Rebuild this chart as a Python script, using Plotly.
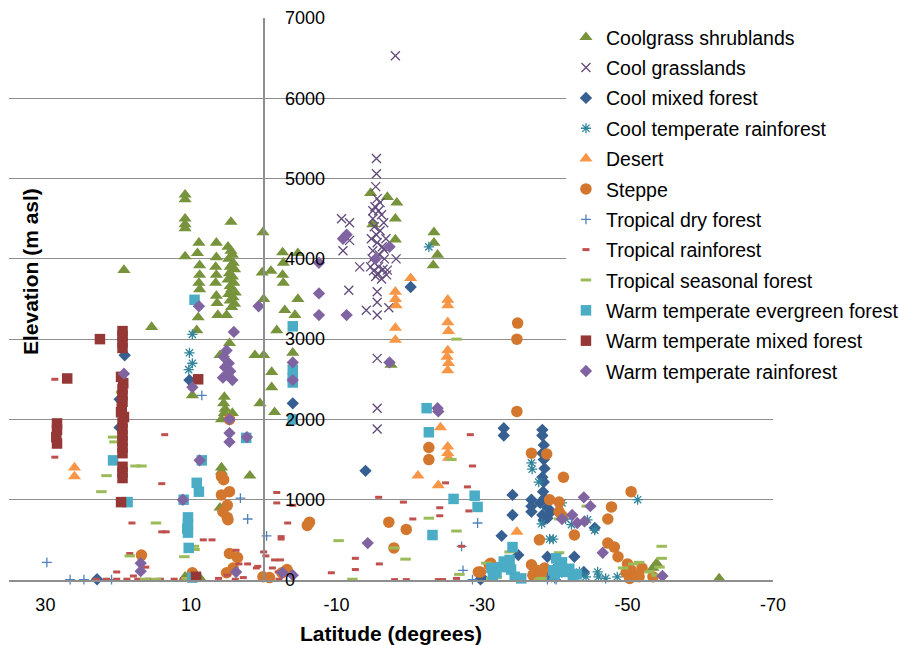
import plotly.graph_objects as go

# ---------------- data: (latitude in degrees, elevation in m asl) ----------------
coolgrass_shrublands = [
    (19.2, 3860), (10.8, 4800), (10.8, 4740), (10.8, 4500), (10.8, 4430), (10.8, 4380), (10.8, 4030),
    (8.9, 4200), (9.1, 4070), (8.8, 3920), (8.8, 3800), (8.9, 3700), (8.8, 3620), (9.0, 3270), (9.2, 3110),
    (6.5, 4200), (6.5, 4020), (6.6, 3900), (6.5, 3800), (6.6, 3700), (6.5, 3540), (6.4, 3450), (6.3, 3300),
    (4.5, 4460), (4.9, 4150), (4.5, 4100), (4.3, 4050), (4.8, 4000), (4.2, 3950), (4.6, 3900), (4.0, 3870),
    (4.7, 3820), (4.3, 3780), (4.9, 3740), (4.1, 3700), (4.6, 3660), (4.4, 3620), (3.9, 3580), (4.8, 3560),
    (4.2, 3520), (4.6, 3480), (4.0, 3440), (4.4, 3400), (5.1, 3300), (4.7, 2950), (6.0, 2800), (5.4, 2280),
    (5.5, 2200), (5.3, 2130), (5.4, 2080), (5.8, 2000), (4.3, 2080), (5.8, 1400), (5.8, 1350), (1.9, 1300),
    (6.0, 900), (0.1, 4330), (0.2, 3830), (-1.0, 3850), (0.0, 3500), (1.2, 2800), (0.0, 2800), (-1.1, 2590),
    (-1.1, 2400), (0.5, 2200), (-1.5, 2090), (-1.8, 3110), (-2.6, 4080), (-2.7, 3950), (-2.6, 3800),
    (-2.7, 3700), (-4.7, 4070), (-4.7, 3500), (-2.9, 3360), (-4.3, 3300), (-4.0, 2830), (9.8, 2300),
    (15.4, 3150), (-14.7, 4820), (-17.0, 4770), (-18.3, 4700), (-18.1, 4500), (-18.1, 4240), (-15.0, 4430),
    (-23.4, 4330), (-23.4, 4200), (-23.9, 4050), (-23.3, 3920), (-17.5, 2680), (-54.0, 210), (-62.6, 20),
    (10.8, 40), (8.8, 30), (-53.5, 150),
]
cool_grasslands = [
    (-18.1, 6530), (-15.5, 5250), (-15.5, 5060), (-15.4, 4900), (-15.6, 4750), (-15.3, 4650), (-15.8, 4600),
    (-16.2, 4550), (-15.0, 4500), (-16.5, 4450), (-15.2, 4400), (-16.0, 4350), (-15.5, 4300), (-14.8, 4250),
    (-16.8, 4250), (-15.6, 4200), (-16.3, 4150), (-15.0, 4100), (-15.9, 4050), (-16.6, 4000), (-15.2, 3950),
    (-15.8, 3900), (-16.4, 3870), (-15.1, 3850), (-15.7, 3820), (-16.9, 3800), (-15.4, 3780), (-16.2, 3750),
    (-14.7, 3900), (-17.0, 3860), (-10.7, 4500), (-11.8, 4450), (-11.8, 4230), (-10.9, 4100), (-13.2, 3900),
    (-18.2, 4000), (-11.7, 3610), (-15.6, 3590), (-15.6, 3460), (-14.1, 3360), (-15.6, 3300), (-17.2, 3390),
    (-15.6, 2760), (-15.6, 2140), (-15.6, 1880), (-16.0, 4700), (-15.0, 4600), (-16.5, 4120), (-14.9, 4000),
]
cool_mixed_forest = [
    (19.1, 2800), (19.8, 2250), (19.8, 1900), (10.2, 2490), (22.9, 10), (-4.0, 2200), (-20.2, 3650),
    (-14.0, 1360), (-33.0, 1890), (-33.0, 1800), (-38.3, 1870), (-38.3, 1800), (-38.5, 1680), (-38.3, 1580),
    (-38.5, 1500), (-38.6, 1390), (-38.3, 1280), (-38.5, 1220), (-38.4, 1100), (-38.6, 1020), (-34.2, 1060),
    (-34.2, 810), (-32.7, 550), (-36.8, 1000), (-36.8, 920), (-36.8, 850), (-38.0, 960), (-38.3, 810),
    (-38.5, 750), (-39.0, 770), (-45.5, 650), (-42.7, 290), (-39.0, 290), (-35.0, 310), (-30.0, 30),
    (-29.8, 10), (-39.0, 900), (-39.5, 850), (-37.2, 100), (-38.8, 50), (-44.0, 100), (-40.5, 180),
]
cool_temperate_rainforest = [
    (9.8, 3060), (10.2, 2830), (9.8, 2700), (10.3, 2620), (-22.7, 4150), (-36.8, 1460), (-36.9, 1380),
    (-37.8, 1220), (-41.0, 960), (-42.3, 690), (-41.5, 760), (-39.3, 510), (-39.8, 510), (-45.5, 620),
    (-51.4, 1000), (-41.0, 90), (-42.7, 70), (-43.4, 100), (-44.3, 40), (-45.9, 100), (-46.0, 40),
    (-48.6, 40), (-44.5, 750), (-38.2, 700), (-37.5, 40), (-40.0, 20), (-47.0, 20),
]
desert = [
    (26.0, 1400), (26.0, 1290), (-20.2, 3760), (-18.1, 3590), (-18.1, 3500), (-18.2, 3420), (-18.1, 3140),
    (-18.1, 2990), (-25.3, 3490), (-25.3, 3420), (-25.3, 3210), (-25.4, 3100), (-25.3, 2860), (-25.2, 2780),
    (-25.4, 2700), (-25.3, 2610), (-24.3, 1900), (-25.3, 1660), (-25.3, 1580), (-25.4, 1520), (-21.2, 1300),
    (-24.0, 1180), (-34.8, 600),
]
steppe = [
    (4.7, 2000), (5.8, 1290), (5.5, 1250), (4.7, 1100), (5.8, 1060), (5.0, 930), (5.6, 850), (5.0, 780),
    (4.9, 750), (-6.3, 720), (-6.0, 680), (16.8, 310), (4.7, 330), (3.6, 280), (4.2, 150), (5.1, 90),
    (0.1, 40), (-0.8, 30), (-3.2, 130), (-2.5, 90), (9.8, 90), (-17.2, 720), (-19.6, 630), (-22.7, 1650),
    (-22.7, 1500), (-17.9, 400), (-34.9, 3200), (-34.8, 3000), (-34.8, 2100), (-36.8, 1580), (-38.9, 1570),
    (-29.5, 100), (-31.0, 190), (-37.9, 500), (-41.2, 1280), (-39.3, 1000), (-40.6, 970), (-40.6, 850),
    (-41.0, 800), (-42.7, 560), (-47.8, 910), (-50.5, 1100), (-47.3, 760), (-47.3, 460), (-48.2, 410),
    (-48.7, 290), (-29.8, 100), (-31.2, 210), (-36.8, 190), (-37.5, 120), (-38.2, 80), (-37.0, 60),
    (-38.6, 150), (-50.0, 200), (-50.5, 120), (-51.0, 60), (-51.6, 40), (-50.3, 20), (-52.0, 150),
    (-53.5, 40), (-49.8, 90),
]
tropical_dry_forest = [
    (29.8, 220), (26.6, 5), (24.7, 5), (20.9, 5), (8.5, 2300), (3.2, 1020), (2.2, 760), (-0.4, 550),
    (-29.4, 710), (-27.2, 420), (-27.4, 120), (-28.7, 5), (-39.0, 5), (-40.2, 5),
]
tropical_rainforest = [
    (28.7, 2500), (28.7, 1530), (13.6, 1810), (14.0, 1200), (18.1, 710), (14.0, 600), (13.4, 600),
    (8.3, 500), (7.1, 500), (18.4, 330), (16.2, 160), (20.2, 100), (17.9, 50), (23.0, 10), (21.6, 10),
    (20.2, 10), (18.8, 10), (17.3, 10), (15.9, 10), (14.2, 10), (12.3, 10), (11.0, 20), (9.6, 40),
    (6.2, 20), (5.0, 60), (3.9, 10), (2.8, 30), (3.8, 370), (3.4, 200), (2.2, 200), (0.8, 170), (0.0, 350),
    (-0.3, 300), (1.0, 150), (-1.5, 250), (-2.3, 250), (-1.8, 1090), (-1.8, 960), (-4.0, 930), (-3.3, 710),
    (-2.4, 540), (-2.4, 510), (-1.2, 150), (-2.0, 100), (-2.6, 70), (-2.1, 10), (-9.3, 90), (-12.6, 270),
    (-12.6, 130), (-15.9, 200), (-15.8, 1030), (-19.2, 970), (-20.5, 760), (-24.2, 900), (-24.2, 800),
    (-25.0, 1210), (-28.0, 1160), (-28.4, 1810), (-28.7, 1420), (-28.2, 860), (-27.2, 420), (-18.0, 5),
    (-19.6, 5), (-24.0, 5), (-24.6, 5), (-26.5, 20),
]
tropical_seasonal_forest = [
    (20.7, 1780), (20.5, 1720), (19.6, 2340), (17.6, 1420), (16.8, 1420), (21.6, 1300), (22.3, 1100),
    (14.8, 710), (18.4, 300), (10.9, 290), (9.6, 420), (9.5, 380), (16.3, 10), (14.8, 10), (10.6, 20),
    (-26.5, 3000), (-25.8, 1500), (-22.7, 770), (-26.5, 610), (-10.3, 490), (-17.9, 400), (-19.5, 260),
    (-12.2, 10), (-26.9, 70), (-32.0, 30), (-33.8, 350), (-40.6, 340), (-37.9, 10), (-30.6, 210),
    (-54.7, 420), (-54.7, 270), (-54.4, 160), (-51.6, 220), (-50.8, 200), (-49.4, 150), (-40.6, 760),
    (-38.2, 20), (-31.3, 20), (-44.4, 920), (-53.0, 100), (-54.0, 60),
]
warm_temperate_evergreen_forest = [
    (9.5, 3490), (-4.0, 3160), (-4.0, 2620), (-4.0, 2520), (-4.0, 2460), (-4.0, 2000), (2.4, 1770),
    (8.5, 1490), (20.7, 1490), (18.7, 970), (11.0, 1000), (9.2, 1210), (8.9, 1100), (10.4, 780),
    (10.4, 700), (10.5, 640), (10.4, 590), (10.3, 400), (9.8, 30), (-22.4, 2140), (-22.7, 1840),
    (-26.1, 1010), (-29.0, 1050), (-29.4, 910), (-23.2, 560), (-34.2, 410), (-31.3, 150), (-32.0, 90),
    (-33.0, 230), (-33.8, 250), (-34.0, 130), (-34.5, 40), (-35.4, 20), (-32.6, 160), (-31.5, 50),
    (-40.2, 270), (-40.6, 160), (-41.3, 100), (-42.5, 40), (-40.0, 70), (-41.0, 220), (-42.0, 140),
    (-43.0, 70), (-39.8, 120),
]
warm_temperate_mixed_forest = [
    (22.5, 3000), (19.4, 3100), (19.4, 3040), (19.4, 2960), (19.4, 2890), (27.0, 2510), (28.4, 1950),
    (28.4, 1870), (28.5, 1780), (28.4, 1700), (19.6, 2530), (19.3, 2450), (19.4, 2380), (19.4, 2300),
    (19.4, 2220), (19.5, 2150), (19.6, 2090), (19.2, 2030), (19.4, 1960), (19.4, 1880), (19.4, 1800),
    (19.4, 1730), (19.4, 1650), (19.4, 1580), (19.4, 1410), (19.4, 1340), (19.4, 1270), (19.6, 970),
    (9.0, 2500), (9.3, 40),
]
warm_temperate_rainforest = [
    (8.9, 3410), (0.7, 3410), (-7.6, 3570), (-7.6, 3950), (-7.6, 3300), (4.1, 3090), (5.1, 2860),
    (5.5, 2780), (4.8, 2700), (5.3, 2650), (4.6, 2600), (5.0, 2560), (5.6, 2520), (4.3, 2490), (9.8, 2400),
    (-4.0, 2710), (-4.0, 2490), (4.7, 2000), (4.7, 1830), (4.7, 1720), (2.3, 1780), (19.2, 2570),
    (8.8, 1490), (11.1, 1000), (16.9, 210), (16.9, 110), (3.8, 100), (-2.6, 90), (-4.0, 60),
    (-11.4, 3300), (-11.4, 4300), (-10.9, 4250), (-17.3, 4150), (-15.4, 4000), (-17.3, 2710),
    (-14.3, 460), (-23.9, 2140), (-24.0, 2100), (-44.0, 1030), (-44.9, 920), (-41.0, 760), (-42.4, 810),
    (-43.1, 710), (-44.1, 730), (-46.6, 340), (-54.8, 50),
]

series_names = [
    "Coolgrass shrublands", "Cool grasslands", "Cool mixed forest", "Cool temperate rainforest",
    "Desert", "Steppe", "Tropical dry forest", "Tropical rainforest", "Tropical seasonal forest",
    "Warm temperate evergreen forest", "Warm temperate mixed forest", "Warm temperate rainforest",
]
series_points = [
    coolgrass_shrublands, cool_grasslands, cool_mixed_forest, cool_temperate_rainforest, desert, steppe,
    tropical_dry_forest, tropical_rainforest, tropical_seasonal_forest, warm_temperate_evergreen_forest,
    warm_temperate_mixed_forest, warm_temperate_rainforest,
]
x_tick_values = [30, 10, -10, -30, -50, -70]
x_tick_labels = ["30", "10", "-10", "-30", "-50", "-70"]
y_tick_values = [0, 1000, 2000, 3000, 4000, 5000, 6000, 7000]
y_tick_labels = ["0", "1000", "2000", "3000", "4000", "5000", "6000", "7000"]

# ---------------- styles ----------------
styles = [
    dict(symbol="triangle-up", size=11.5, color="#77933C", line=dict(width=0)),
    dict(symbol="x-thin", size=9, color="#604A7B", line=dict(width=1.3, color="#604A7B")),
    dict(symbol="diamond", size=9.5, color="#376092", line=dict(width=0)),
    dict(symbol="asterisk", size=8.5, color="#31859C", line=dict(width=1.3, color="#31859C")),
    dict(symbol="triangle-up", size=11.5, color="#F79646", line=dict(width=0)),
    dict(symbol="circle", size=11.5, color="#D2772D", line=dict(width=0)),
    dict(symbol="cross-thin", size=7, color="#4F81BD", line=dict(width=1.3, color="#4F81BD")),
    dict(symbol="line-ew", size=5, color="#C0504D", line=dict(width=3, color="#C0504D")),
    dict(symbol="line-ew", size=7.5, color="#9BBB59", line=dict(width=3, color="#9BBB59")),
    dict(symbol="square", size=10.5, color="#4BACC6", line=dict(width=0)),
    dict(symbol="square", size=10.5, color="#953735", line=dict(width=0)),
    dict(symbol="diamond", size=9.5, color="#8064A2", line=dict(width=0)),
]

FONT = "Liberation Sans, Arial, sans-serif"
GRID = "#8E8E8E"

fig = go.Figure()
for name, pts, st in zip(series_names, series_points, styles):
    fig.add_trace(go.Scatter(
        x=[p[0] for p in pts], y=[p[1] for p in pts],
        mode="markers", name=name, legendgroup=name,
        marker=st, cliponaxis=False,
    ))

fig.update_layout(
    width=899, height=645, autosize=False,
    margin=dict(l=9, r=126, t=18, b=65, autoexpand=False),
    paper_bgcolor="white", plot_bgcolor="white",
    font=dict(family=FONT, size=18, color="black"),
    showlegend=True,
    legend=dict(
        x=0.729, y=1.0, xanchor="left", yanchor="top",
        bgcolor="white", borderwidth=0, font=dict(size=19.5, family=FONT, color="black"),
        tracegroupgap=2, itemsizing="trace",
    ),
    # white backing of the legend area (hides gridlines behind the legend, as in the original)
    shapes=[
        dict(type="rect", xref="paper", yref="paper", x0=0.7016, x1=1.0, y0=0.347, y1=0.9875,
             fillcolor="white", line=dict(width=0), layer="between"),
    ],
    xaxis=dict(
        range=[35, -70], tickvals=x_tick_values, ticktext=x_tick_labels, showgrid=False, zeroline=False,
        showline=True, linecolor=GRID, linewidth=1.5, ticks="", ticklabelstandoff=8, automargin=False,
        tickfont=dict(size=18, family=FONT, color="black"),
    ),
    yaxis=dict(
        range=[0, 7000], tickvals=y_tick_values, ticktext=y_tick_labels,
        showgrid=True, gridcolor=GRID, gridwidth=1.3,
        zeroline=False, anchor="free", position=1/3, side="right",
        showline=True, linecolor=GRID, linewidth=1.5, automargin=False,
        ticks="", ticklabelstandoff=17,
        tickfont=dict(size=18, family=FONT, color="black"),
    ),
    annotations=[
        dict(text="<b>Latitude (degrees)</b>", xref="paper", yref="paper", x=0.5, y=-0.096,
             xanchor="center", yanchor="middle", showarrow=False, font=dict(size=21, family=FONT)),
        dict(text="<b>Elevation (m asl)</b>", xref="paper", yref="paper", x=0.0275, y=0.548,
             xanchor="center", yanchor="middle", textangle=-90, showarrow=False,
             font=dict(size=21, family=FONT)),
    ],
)

# page without default body margin so the 899x645 figure fills the window exactly
fig.write_html(
    "out.html",
    config={"displayModeBar": False, "responsive": False},
    post_script="document.body.style.margin='0';document.documentElement.style.overflow='hidden';",
)
